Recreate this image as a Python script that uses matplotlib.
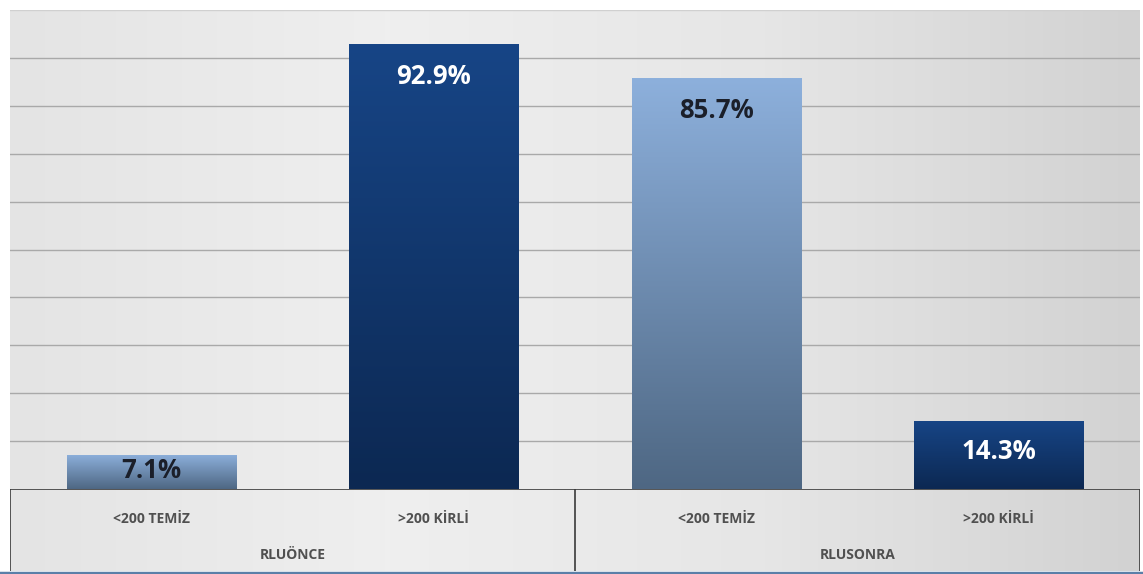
import numpy as np
import matplotlib
matplotlib.use("Agg")
import matplotlib.pyplot as plt
from matplotlib.colors import LinearSegmentedColormap

# data
groups = ["RLUÖNCE", "RLUSONRA"]
categories = ["<200 TEMİZ", ">200 KİRLİ", "<200 TEMİZ", ">200 KİRLİ"]
values = [7.1, 92.9, 85.7, 14.3]
labels = ["7.1%", "92.9%", "85.7%", "14.3%"]

light_cmap = LinearSegmentedColormap.from_list("light", ["#4e6783", "#8db0dc"])
dark_cmap = LinearSegmentedColormap.from_list("dark", ["#0c2852", "#174586"])
bar_cmaps = [light_cmap, dark_cmap, light_cmap, dark_cmap]
label_colors = ["#1b1f2a", "white", "#1b1f2a", "white"]

W, H = 1143, 574
fig = plt.figure(figsize=(W / 100, H / 100), dpi=100)
fig.patch.set_facecolor("white")

left, right, top, base, bottom = 10, 1140, 10, 489, 571
ax = fig.add_axes([left / W, 1 - base / H, (right - left) / W, (base - top) / H])
axl = fig.add_axes([left / W, 1 - bottom / H, (right - left) / W, (bottom - base) / H])

# background gradient
bg = LinearSegmentedColormap.from_list("bg", ["#e4e4e4", "#efefef", "#e6e6e6", "#d2d2d2"])
grad = np.linspace(0, 1, 256).reshape(1, -1)
for a in (ax, axl):
    a.imshow(grad, cmap=bg, aspect="auto", extent=[0, 1, 0, 1],
             transform=a.transAxes, zorder=0)

x = np.arange(len(values))
ax.set_xlim(-0.5, len(values) - 0.5)
ax.set_ylim(0, 100)

for yy in range(10, 101, 10):
    ax.axhline(yy, color="#a9a9a9" if yy < 100 else "#d0d0d0", lw=1.0, zorder=1)

bars = ax.bar(x, values, width=0.6, color="none", zorder=2)
vgrad = np.linspace(0, 1, 256).reshape(-1, 1)
for b, cm, val, lab, lc in zip(bars, bar_cmaps, values, labels, label_colors):
    bx, by = b.get_x(), b.get_y()
    bw, bh = b.get_width(), b.get_height()
    im = ax.imshow(vgrad, cmap=cm, aspect="auto", origin="lower",
                   extent=[bx, bx + bw, by, by + bh], zorder=2)
    im.set_clip_path(b)
    ty = max(val - 6.7, val * 0.55)
    ax.text(bx + bw / 2, ty, lab, ha="center", va="center",
            fontsize=18.5, fontweight="bold", color=lc, family="Open Sans", zorder=3)

ax.set_xticks([])
ax.set_yticks([])
for s in ax.spines.values():
    s.set_visible(False)

# category label box
axl.set_xlim(-0.5, len(values) - 0.5)
axl.set_ylim(0, 1)
axl.set_xticks([])
axl.set_yticks([])
for s in axl.spines.values():
    s.set_visible(False)
axl.axhline(1, color="#3a3a3a", lw=1.2)
for xv in [-0.5, 1.5, 3.5]:
    axl.axvline(xv, color="#3a3a3a", lw=1.2)
for xi, cat in zip(x, categories):
    axl.text(xi, 0.63, cat, ha="center", va="center", fontsize=10,
             fontweight="bold", color="#505050", family="Open Sans")
for gi, g in enumerate(groups):
    axl.text(gi * 2 + 0.5, 0.19, g, ha="center", va="center", fontsize=10,
             fontweight="bold", color="#505050", family="Open Sans")

# bottom blue line
fig.add_artist(plt.Line2D([0, 1], [1 - 572.5 / H] * 2, color="#5a7fa8", lw=2.5,
                          transform=fig.transFigure))

fig.savefig("out.png", dpi=100)
